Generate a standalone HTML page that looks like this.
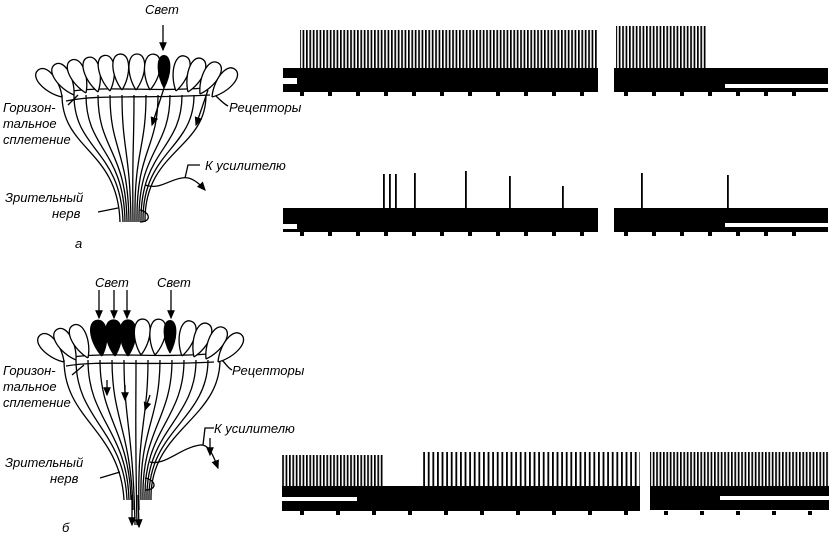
<!DOCTYPE html>
<html><head><meta charset="utf-8"><style>
html,body{margin:0;padding:0;background:#fff}
svg{display:block}
text{font-family:"Liberation Sans",sans-serif;font-style:italic;font-size:13px;fill:#000}
</style></head><body>
<svg width="830" height="539" viewBox="0 0 830 539" xmlns="http://www.w3.org/2000/svg">
<defs>
<pattern id="sp" width="3.4" height="10" patternUnits="userSpaceOnUse"><rect x="0" y="0" width="1.7" height="10" fill="#000"/></pattern>
<pattern id="sp2" width="4.6" height="10" patternUnits="userSpaceOnUse"><rect x="0" y="0" width="1.8" height="10" fill="#000"/></pattern>
<path id="pet" d="M0,0 C-10,-14 -11,-36 0,-36 C11,-36 10,-14 0,0" fill="#fff" stroke="#000" stroke-width="1.3"/>
<path id="petb" d="M0,0 C-10,-14 -11,-36 0,-36 C11,-36 10,-14 0,0" fill="#000" stroke="#000" stroke-width="1.3"/>
<marker id="ar" markerWidth="8" markerHeight="8" refX="6" refY="3" orient="auto"><path d="M0,0 L7,3 L0,6 Z" fill="#000"/></marker>
</defs>

<!-- ===== Diagram a ===== -->
<g stroke="#000" fill="none" stroke-width="1.3">
<path d="M62,95 C62,150 118,150 120,222"/><path d="M74,95 C74,150 121,150 123,222"/>
<path d="M86,95 C86,150 124,150 125,222"/><path d="M98,95 C98,150 126,150 127,222"/>
<path d="M110,95 C110,150 128,150 129,222"/><path d="M122,95 C122,150 130,150 131,222"/>
<path d="M134,95 C134,150 132,150 133,222"/><path d="M146,95 C146,150 134,150 135,222"/>
<path d="M158,95 C158,150 136,150 137,222"/><path d="M170,95 C170,150 138,150 139,222"/>
<path d="M182,95 C182,150 140,150 141,222"/><path d="M194,95 C194,150 142,150 143,222"/>
<path d="M206,95 C206,150 144,150 145,222"/>
<path d="M66,101 C100,94 140,99 210,95"/><path d="M72,91 C110,86 150,92 205,88"/>
<path d="M140,210 C150,212 152,222 140,222"/>
<path d="M145,185 C160,190 168,180 182,178 C190,176 198,182 205,190" marker-end="url(#ar)"/>
<path d="M185,178 L188,165 L200,165"/>
<path d="M165,85 L152,125" marker-end="url(#ar)"/>
<path d="M208,90 L196,125" marker-end="url(#ar)"/>
<path d="M163,25 L163,50" marker-end="url(#ar)"/>
<path d="M216,96 C220,100 224,104 228,106"/>
<path d="M68,105 L78,95"/>
<path d="M98,212 L118,208"/>
</g>
<g>
<use href="#pet" transform="translate(62,97) rotate(-42)"/>
<use href="#pet" transform="translate(74,95) rotate(-32)"/>
<use href="#pet" transform="translate(86,93) rotate(-24)"/>
<use href="#pet" transform="translate(98,92) rotate(-16)"/>
<use href="#pet" transform="translate(110,91) rotate(-9)"/>
<use href="#pet" transform="translate(122,90) rotate(-3)"/>
<use href="#pet" transform="translate(136,90) rotate(2)"/>
<use href="#pet" transform="translate(150,90) rotate(6)"/>
<use href="#petb" transform="translate(164,88) scale(0.75,0.9)"/>
<use href="#pet" transform="translate(176,91) rotate(14)"/>
<use href="#pet" transform="translate(188,92) rotate(22)"/>
<use href="#pet" transform="translate(200,94) rotate(30)"/>
<use href="#pet" transform="translate(212,97) rotate(40)"/>
</g>
<text x="145" y="14">Свет</text>
<text x="3" y="112">Горизон-</text>
<text x="3" y="128">тальное</text>
<text x="3" y="144">сплетение</text>
<text x="229" y="112">Рецепторы</text>
<text x="205" y="170">К усилителю</text>
<text x="5" y="202">Зрительный</text>
<text x="52" y="218">нерв</text>
<text x="75" y="248">а</text>

<!-- ===== Diagram b ===== -->
<g stroke="#000" fill="none" stroke-width="1.3">
<path d="M64,360 C64,420 120,430 124,500"/><path d="M76,360 C76,420 124,430 127,500"/>
<path d="M88,360 C88,420 127,430 129,500"/><path d="M100,360 C100,420 129,430 131,500"/>
<path d="M112,360 C112,420 131,430 133,510"/><path d="M124,360 C124,420 133,430 135,525"/>
<path d="M136,360 C136,420 135,430 137,525"/><path d="M148,360 C148,420 137,430 139,510"/>
<path d="M160,360 C160,420 139,430 141,500"/><path d="M172,360 C172,420 141,430 143,500"/>
<path d="M184,360 C184,420 143,430 145,500"/><path d="M196,360 C196,420 145,430 147,500"/>
<path d="M208,360 C208,420 147,430 149,500"/><path d="M220,360 C220,420 149,430 151,500"/>
<path d="M66,366 C100,360 140,366 214,362"/><path d="M72,357 C110,352 150,358 208,354"/>
<path d="M145,478 C156,480 158,490 145,490"/>
<path d="M150,462 C165,466 180,448 200,445 C208,444 212,452 218,468" marker-end="url(#ar)"/>
<path d="M203,445 L205,428 L214,428"/><path d="M210,438 L210,455" marker-end="url(#ar)"/>
<path d="M132,495 L132,525" marker-end="url(#ar)"/><path d="M138,495 L139,527" marker-end="url(#ar)"/>
<path d="M99,290 L99,318" marker-end="url(#ar)"/><path d="M114,290 L114,318" marker-end="url(#ar)"/>
<path d="M127,290 L127,318" marker-end="url(#ar)"/><path d="M171,290 L171,318" marker-end="url(#ar)"/>
<path d="M107,380 L107,395" marker-end="url(#ar)"/><path d="M125,385 L125,400" marker-end="url(#ar)"/>
<path d="M150,395 L145,410" marker-end="url(#ar)"/>
<path d="M222,360 C226,364 228,368 232,370"/>
<path d="M72,375 L84,365"/><path d="M100,478 L120,472"/>
</g>
<g>
<use href="#pet" transform="translate(64,362) rotate(-42)"/>
<use href="#pet" transform="translate(76,360) rotate(-32)"/>
<use href="#pet" transform="translate(88,358) rotate(-24)"/>
<use href="#petb" transform="translate(102,356) rotate(-8)"/>
<use href="#petb" transform="translate(115,356) rotate(-3)"/>
<use href="#petb" transform="translate(128,356) rotate(0)"/>
<use href="#pet" transform="translate(141,355) rotate(3)"/>
<use href="#pet" transform="translate(155,355) rotate(7)"/>
<use href="#petb" transform="translate(170,353) scale(0.75,0.9)"/>
<use href="#pet" transform="translate(182,356) rotate(14)"/>
<use href="#pet" transform="translate(194,357) rotate(22)"/>
<use href="#pet" transform="translate(206,359) rotate(30)"/>
<use href="#pet" transform="translate(218,362) rotate(40)"/>
</g>
<text x="95" y="287">Свет</text>
<text x="157" y="287">Свет</text>
<text x="3" y="375">Горизон-</text>
<text x="3" y="391">тальное</text>
<text x="3" y="407">сплетение</text>
<text x="232" y="375">Рецепторы</text>
<text x="214" y="433">К усилителю</text>
<text x="5" y="467">Зрительный</text>
<text x="50" y="483">нерв</text>
<text x="62" y="532">б</text>

<!-- ===== Trace a1 ===== -->
<rect x="283" y="68" width="315" height="24" fill="#000"/>
<rect x="283" y="78" width="14" height="6" fill="#fff"/>
<rect x="300" y="30" width="298" height="40" fill="url(#sp)"/>
<rect x="614" y="68" width="214" height="24" fill="#000"/>
<rect x="616" y="26" width="90" height="44" fill="url(#sp)"/>
<rect x="725" y="84" width="103" height="4" fill="#fff"/>
<g fill="#000"><rect x="300" y="92" width="4" height="4"/><rect x="328" y="92" width="4" height="4"/><rect x="356" y="92" width="4" height="4"/><rect x="384" y="92" width="4" height="4"/><rect x="412" y="92" width="4" height="4"/><rect x="440" y="92" width="4" height="4"/><rect x="468" y="92" width="4" height="4"/><rect x="496" y="92" width="4" height="4"/><rect x="524" y="92" width="4" height="4"/><rect x="552" y="92" width="4" height="4"/><rect x="580" y="92" width="4" height="4"/><rect x="624" y="92" width="4" height="4"/><rect x="652" y="92" width="4" height="4"/><rect x="680" y="92" width="4" height="4"/><rect x="708" y="92" width="4" height="4"/><rect x="736" y="92" width="4" height="4"/><rect x="764" y="92" width="4" height="4"/><rect x="792" y="92" width="4" height="4"/></g>

<!-- ===== Trace a2 ===== -->
<rect x="283" y="208" width="315" height="24" fill="#000"/>
<rect x="283" y="224" width="14" height="5" fill="#fff"/>
<rect x="614" y="208" width="214" height="24" fill="#000"/>
<rect x="725" y="223" width="103" height="4" fill="#fff"/>
<g fill="#000"><rect x="383" y="174" width="1.8" height="34"/><rect x="389" y="174" width="1.8" height="34"/><rect x="395" y="174" width="1.8" height="34"/><rect x="414" y="173" width="1.8" height="35"/><rect x="465" y="171" width="1.8" height="37"/><rect x="509" y="176" width="1.8" height="32"/><rect x="562" y="186" width="1.8" height="22"/><rect x="641" y="173" width="1.8" height="35"/><rect x="727" y="175" width="1.8" height="33"/>
<rect x="300" y="232" width="4" height="4"/><rect x="328" y="232" width="4" height="4"/><rect x="356" y="232" width="4" height="4"/><rect x="384" y="232" width="4" height="4"/><rect x="412" y="232" width="4" height="4"/><rect x="440" y="232" width="4" height="4"/><rect x="468" y="232" width="4" height="4"/><rect x="496" y="232" width="4" height="4"/><rect x="524" y="232" width="4" height="4"/><rect x="552" y="232" width="4" height="4"/><rect x="580" y="232" width="4" height="4"/><rect x="624" y="232" width="4" height="4"/><rect x="652" y="232" width="4" height="4"/><rect x="680" y="232" width="4" height="4"/><rect x="708" y="232" width="4" height="4"/><rect x="736" y="232" width="4" height="4"/><rect x="764" y="232" width="4" height="4"/><rect x="792" y="232" width="4" height="4"/></g>

<!-- ===== Trace b ===== -->
<rect x="282" y="486" width="358" height="25" fill="#000"/>
<rect x="282" y="497" width="75" height="4" fill="#fff"/>
<rect x="282" y="455" width="102" height="32" fill="url(#sp)"/>
<rect x="422" y="452" width="218" height="35" fill="url(#sp2)"/>
<rect x="650" y="486" width="179" height="24" fill="#000"/>
<rect x="650" y="452" width="179" height="35" fill="url(#sp)"/>
<rect x="720" y="496" width="109" height="4" fill="#fff"/>
<g fill="#000"><rect x="300" y="511" width="4" height="4"/><rect x="336" y="511" width="4" height="4"/><rect x="372" y="511" width="4" height="4"/><rect x="408" y="511" width="4" height="4"/><rect x="444" y="511" width="4" height="4"/><rect x="480" y="511" width="4" height="4"/><rect x="516" y="511" width="4" height="4"/><rect x="552" y="511" width="4" height="4"/><rect x="588" y="511" width="4" height="4"/><rect x="624" y="511" width="4" height="4"/><rect x="664" y="511" width="4" height="4"/><rect x="700" y="511" width="4" height="4"/><rect x="736" y="511" width="4" height="4"/><rect x="772" y="511" width="4" height="4"/><rect x="808" y="511" width="4" height="4"/></g>
</svg>
</body></html>
